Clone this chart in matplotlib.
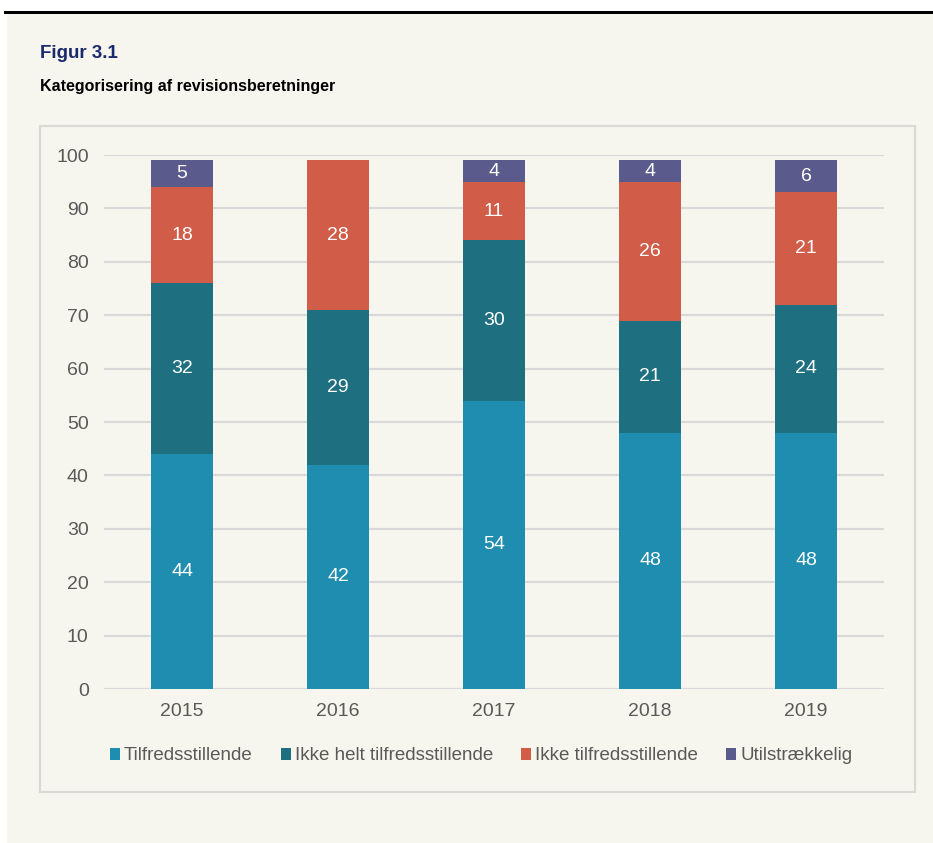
import matplotlib.pyplot as plt
import numpy as np
from matplotlib import patches

plt.rcParams['font.family'] = ['Liberation Sans', 'DejaVu Sans']

# 数据
years = ["2015", "2016", "2017", "2018", "2019"]
series_names = ["Tilfredsstillende", "Ikke helt tilfredsstillende",
                "Ikke tilfredsstillende", "Utilstrækkelig"]
tilfreds = [44, 42, 54, 48, 48]
ikke_helt = [32, 29, 30, 21, 24]
ikke_tilfreds = [18, 28, 11, 26, 21]
utilstraekkelig = [5, 0, 4, 4, 6]
y_ticks = [0, 10, 20, 30, 40, 50, 60, 70, 80, 90, 100]

colors = ["#1F8DB0", "#1E7080", "#D15C48", "#5A5A8C"]
BG = "#F7F6EE"
W, H = 933, 843

fig = plt.figure(figsize=(W / 100, H / 100), dpi=100)
fig.patch.set_facecolor("white")


def px_rect(x0, y0, x1, y1, **kw):
    # 像素坐标转换为图形坐标
    return patches.Rectangle((x0 / W, 1 - y1 / H), (x1 - x0) / W, (y1 - y0) / H,
                             transform=fig.transFigure, **kw)


# 背景和边框
fig.patches.append(px_rect(7, 14, W, H, facecolor=BG, edgecolor="none", zorder=-10))
fig.patches.append(px_rect(4, 11.5, W, 14, facecolor="black", edgecolor="none", zorder=-9))
fig.patches.append(px_rect(40, 126, 915, 792, facecolor="none", edgecolor="#DAD9D4",
                           linewidth=1.6, zorder=-9))

fig.text(40 / W, 1 - 53 / H, "Figur 3.1", fontsize=13.5, fontweight="bold",
         color="#1B2A6B", va="center", ha="left")
fig.text(40 / W, 1 - 87 / H, "Kategorisering af revisionsberetninger", fontsize=11.5,
         fontweight="bold", color="black", va="center", ha="left")

ax = fig.add_axes([104 / W, 1 - 689 / H, 780 / W, 534 / H])
ax.set_facecolor("none")

x = np.arange(len(years))
data = [tilfreds, ikke_helt, ikke_tilfreds, utilstraekkelig]
bottom = np.zeros(len(years))
for vals, name, col in zip(data, series_names, colors):
    vals = np.array(vals, dtype=float)
    ax.bar(x, vals, 0.4, bottom=bottom, color=col, label=name, zorder=3)
    for xi, b, v in zip(x, bottom, vals):
        if v > 0:
            ax.text(xi, b + v / 2, str(int(v)), ha="center", va="center",
                    color="white", fontsize=14, zorder=4)
    bottom += vals

ax.set_xlim(-0.5, 4.5)
ax.set_ylim(0, 100)
ax.set_yticks(y_ticks)
ax.set_xticks(x)
ax.set_xticklabels(years)
ax.yaxis.grid(True, color="#D9D9D9", linewidth=1.6, zorder=0)
ax.set_axisbelow(True)
for s in ax.spines.values():
    s.set_visible(False)
ax.tick_params(length=0, labelsize=14, labelcolor="#595959")
ax.tick_params(axis="y", pad=11)
ax.tick_params(axis="x", pad=10)

handles, labels = ax.get_legend_handles_labels()
fig.legend(handles, labels, loc="center", bbox_to_anchor=(481 / W, 1 - 756 / H), ncol=4,
           frameon=False, fontsize=13.5, handlelength=0.55, handleheight=0.55,
           handletextpad=0.2, columnspacing=1.5, labelcolor="#595959")

fig.savefig("out.png", dpi=100, facecolor=fig.get_facecolor())
